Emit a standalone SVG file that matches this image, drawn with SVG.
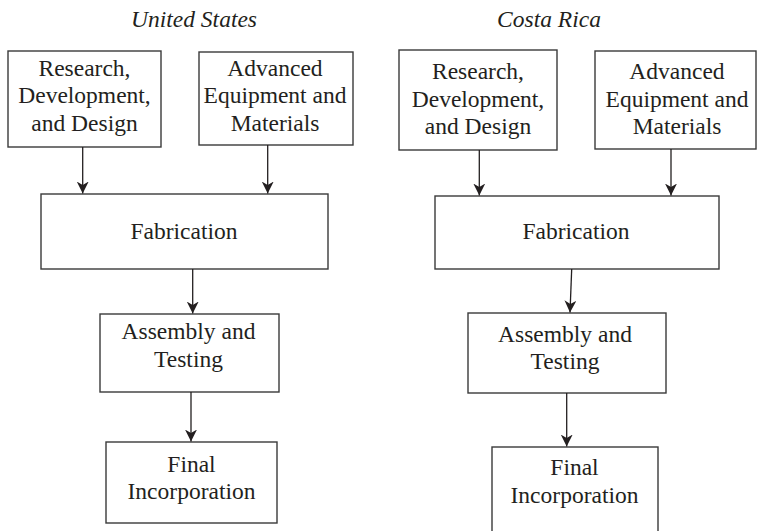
<svg xmlns="http://www.w3.org/2000/svg" width="757" height="531" viewBox="0 0 757 531">
<defs>
<style>
.box{fill:#fff;stroke:#3a3a3a;stroke-width:1.4}
.t{font-family:'Liberation Serif','Times New Roman',serif;font-size:23.5px;fill:#231f20;text-anchor:middle}
.title{font-style:italic}
.c{stroke:#231f20;stroke-width:1.3;fill:none;marker-end:url(#ah)}
</style>
<marker id="ah" viewBox="0 0 12 12" refX="12" refY="6" markerWidth="12" markerHeight="12" markerUnits="userSpaceOnUse" orient="auto">
<path d="M0,0 L12,6 L0,12 L3.5,6 z" fill="#231f20"/>
</marker>
</defs>
<rect width="757" height="531" fill="#fff"/>
<text class="t title" x="194" y="27">United States</text>
<text class="t title" x="549" y="27">Costa Rica</text>
<g id="us-rdd">
<rect class="box" x="8" y="51" width="153" height="96"/>
<text class="t" x="84.5" y="76">Research,</text>
<text class="t" x="84.5" y="103.3">Development,</text>
<text class="t" x="84.5" y="130.6">and Design</text>
</g>
<g id="us-aem">
<rect class="box" x="199" y="52" width="154" height="93"/>
<text class="t" x="275" y="76">Advanced</text>
<text class="t" x="275" y="103.3">Equipment and</text>
<text class="t" x="275" y="130.6">Materials</text>
</g>
<g id="us-fab">
<rect class="box" x="41" y="194" width="287" height="75"/>
<text class="t" x="184" y="238.5">Fabrication</text>
</g>
<g id="us-asm">
<rect class="box" x="100" y="314" width="179" height="78"/>
<text class="t" x="188.5" y="338.5">Assembly and</text>
<text class="t" x="188.5" y="366.5">Testing</text>
</g>
<g id="us-fin">
<rect class="box" x="106" y="442" width="171" height="81"/>
<text class="t" x="191.5" y="471.5">Final</text>
<text class="t" x="191.5" y="498.5">Incorporation</text>
</g>
<g id="cr-rdd">
<rect class="box" x="399" y="50" width="158" height="100"/>
<text class="t" x="478" y="79">Research,</text>
<text class="t" x="478" y="106.6">Development,</text>
<text class="t" x="478" y="134.2">and Design</text>
</g>
<g id="cr-aem">
<rect class="box" x="595" y="51" width="161" height="98"/>
<text class="t" x="677" y="79">Advanced</text>
<text class="t" x="677" y="106.6">Equipment and</text>
<text class="t" x="677" y="134.2">Materials</text>
</g>
<g id="cr-fab">
<rect class="box" x="435" y="196" width="284" height="73"/>
<text class="t" x="576" y="238.5">Fabrication</text>
</g>
<g id="cr-asm">
<rect class="box" x="468" y="313" width="198" height="80"/>
<text class="t" x="565" y="341.7">Assembly and</text>
<text class="t" x="565" y="368.5">Testing</text>
</g>
<g id="cr-fin">
<rect class="box" x="492" y="447" width="166" height="90"/>
<text class="t" x="574.5" y="475">Final</text>
<text class="t" x="574.5" y="503.3">Incorporation</text>
</g>
<g id="connectors">
<line class="c" x1="82.7" y1="147" x2="82.7" y2="193.5"/>
<line class="c" x1="267.7" y1="145" x2="267.7" y2="193.5"/>
<line class="c" x1="192.7" y1="269" x2="192.7" y2="313.5"/>
<line class="c" x1="191" y1="392" x2="191" y2="441.5"/>
<line class="c" x1="479.3" y1="150" x2="479.3" y2="195.5"/>
<line class="c" x1="671" y1="149" x2="671" y2="195.5"/>
<line class="c" x1="571.7" y1="269" x2="570" y2="312.5"/>
<line class="c" x1="566.7" y1="393" x2="566.7" y2="446.5"/>
</g>
</svg>
